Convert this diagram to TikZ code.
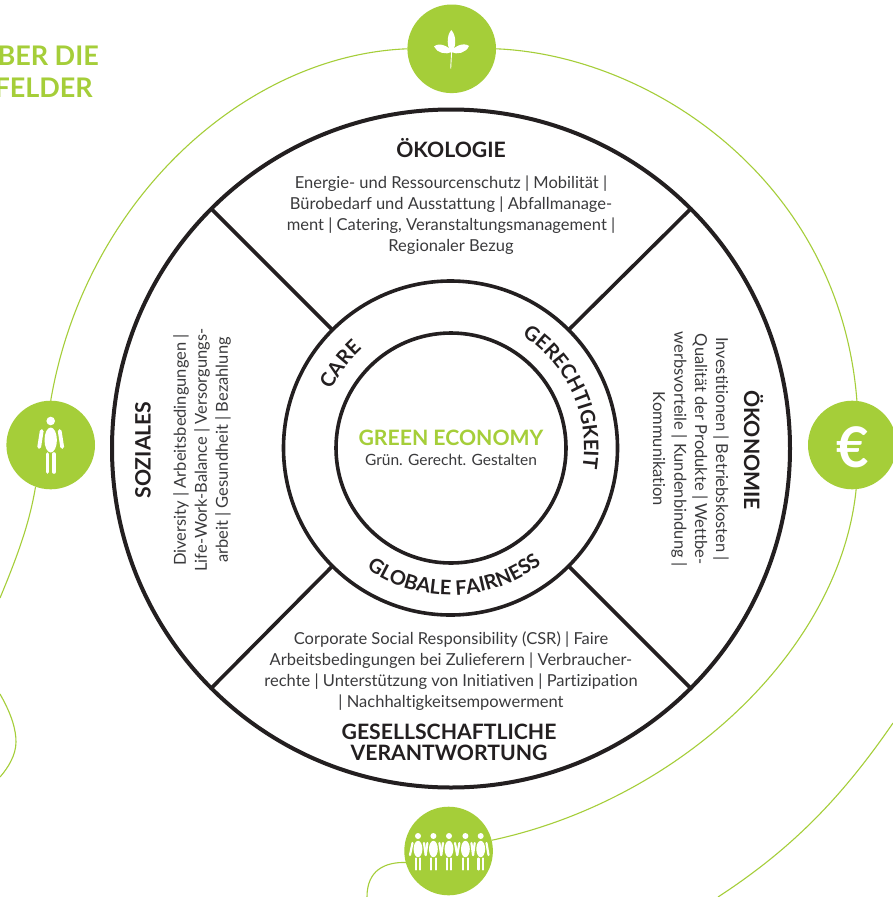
\documentclass[tikz,border=0pt]{standalone}
\usepackage{fontspec}
\setmainfont{Lato}[Ligatures=NoCommon]
\usetikzlibrary{decorations.text}
\definecolor{leaf}{HTML}{A5CE39}
\definecolor{ink}{HTML}{231F20}
\definecolor{body}{HTML}{3A3A3C}
\tikzset{
  ring/.style={circle,draw=ink,inner sep=0,outer sep=0},
  spoke/.style={draw=ink,line width=3.6pt},
  vine/.style={draw=leaf,line width=1.1pt},
  badge/.style={circle,fill=leaf,inner sep=0,outer sep=0,minimum size=88.6pt},
  head/.style={font=\fontsize{21.2}{21}\selectfont\bfseries,text=ink,align=center,inner sep=0},
  copytext/.style={font=\fontsize{16.5}{21}\selectfont,text=body,align=center,inner sep=0},
  arclabel/.style={decorate,decoration={text along path,text align={align=fit to path},raise=0pt,text={|\fontsize{20}{22}\selectfont\bfseries\color{ink}|#1}}},
  limb/.style={draw=white,line cap=round},
  person/.pic={
    \fill[white] (0,-24) circle (4.3);
    \fill[white] (0,-5) ellipse [x radius=6.2,y radius=12.5];
    \draw[limb,line width=3.8pt] (-9,-14) -- (-11.5,2);
    \draw[limb,line width=3.8pt] (9,-14) -- (11.5,2);
    \draw[limb,line width=3.6pt] (-3.3,9) -- (-3.3,27);
    \draw[limb,line width=3.6pt] (3.3,9) -- (3.3,27);
  },
  miniperson/.pic={
    \fill[white] (0,-15) circle (3);
    \fill[white] (0,-2) ellipse [x radius=4.4,y radius=8.2];
    \draw[limb,line width=2.2pt] (-2.2,7.5) -- (-2.2,18.5);
    \draw[limb,line width=2.2pt] (2.2,7.5) -- (2.2,18.5);
  },
}
\begin{document}
\begin{tikzpicture}[x=1pt,y=-1pt]
\path[clip] (0,0) rectangle (893,897);
\fill[white] (0,0) rectangle (893,897);

% badges
\node[badge] (plant) at (451.7,48.8) {};
\node[badge] (human) at (50.7,445) {};
\node[badge] (euro) at (852.3,445) {};
\node[badge] (group) at (448.6,851) {};

% vines
\coordinate (redge1) at (893,723);
\coordinate (redge2) at (718,897);
\coordinate (ledge1) at (0,598);
\coordinate (ledge2) at (0,694);
\coordinate (ledge3) at (0,777);
\coordinate (bedge) at (367,897);
\draw[vine] (plant.west) .. controls (245,55) and (85,200) .. (human.90);
\draw[vine] (plant.east) .. controls (650,55) and (840,180) .. (euro.84);
\draw[vine] (euro.-85) .. controls (840,650) and (680,800) .. (group.14);
\draw[vine] (redge1) .. controls (840,800) and (790,850) .. (redge2);
\draw[vine] (human.-110) .. controls (30,520) and (20,550) .. (ledge1);
\draw[vine] (ledge2) .. controls (12,715) and (16,730) .. (16,742) .. controls (16,755) and (8,768) .. (ledge3);
\draw[vine] (group.195) .. controls (385,862) and (367,870) .. (bedge);

% rings
\node[ring,line width=4pt,minimum size=678pt] (outer) at (451,448.5) {};
\node[ring,line width=3.6pt,minimum size=334pt] (mid) at (450.5,448) {};
\node[ring,line width=3.6pt,minimum size=230pt] (inner) at (451,448) {};
\draw[spoke] (mid.135) -- (outer.135);
\draw[spoke] (mid.45) -- (outer.45);
\draw[spoke] (mid.-135) -- (outer.-135);
\draw[spoke] (mid.-45) -- (outer.-45);

% centre
\node[font=\fontsize{21.2}{22}\selectfont\bfseries,text=leaf,inner sep=0] (ge) at (451,438) {GREEN ECONOMY};
\node[font=\fontsize{15.5}{21}\selectfont,text=body,inner sep=0] (gg) at (451,460) {Grün. Gerecht. Gestalten};

% ring labels
\path[arclabel=CARE] (451,448) ++(-154:133) arc (-154:-132:133);
\path[arclabel=GERECHTIGKEIT] (451,448) ++(-59:133) arc (-59:10:133);
\path[arclabel=GLOBALE FAIRNESS] (451,448) ++(128:147) arc (128:49:147);

% sectors
\node[head] (oek) at (451,148) {ÖKOLOGIE};
\node[copytext] (oekt) at (451,215) {Energie- und Ressourcenschutz | Mobilität |\\Bürobedarf und Ausstattung | Abfallmanage-\\ment | Catering, Veranstaltungsmanagement |\\Regionaler Bezug};
\node[copytext] (gest) at (451,671) {Corporate Social Responsibility (CSR) | Faire\\Arbeitsbedingungen bei Zulieferern | Verbraucher-\\rechte | Unterstützung von Initiativen | Partizipation\\| Nachhaltigkeitsempowerment};
\node[head] (ges) at (449,742.5) {GESELLSCHAFTLICHE\\VERANTWORTUNG};
\node[head,rotate=90] (soz) at (143,450) {SOZIALES};
\node[copytext,rotate=90] (sozt) at (202,450) {Diversity | Arbeitsbedingungen |\\Life-Work-Balance | Versorgungs-\\arbeit | Gesundheit | Bezahlung};
\node[head,rotate=-90] (oko) at (753.5,450) {ÖKONOMIE};
\node[copytext,rotate=-90] (okot) at (691,449) {Investitionen | Betriebskosten |\\Qualität der Produkte | Wettbe-\\werbsvorteile | Kundenbindung |\\Kommunikation};

% title
\node[anchor=east,font=\fontsize{27}{30}\selectfont\bfseries,text=leaf,inner sep=0] (t1) at (99,56) {BER DIE};
\node[anchor=east,font=\fontsize{27}{30}\selectfont\bfseries,text=leaf,inner sep=0] (t2) at (93,88) {FELDER};

% plant icon
\fill[white] (451.3,30) .. controls (457,36) and (456,48) .. (451.5,53) .. controls (447,48) and (446,36) .. (451.3,30) -- cycle;
\fill[white] (434,46.5) .. controls (439,42) and (449,46) .. (452,52) .. controls (446,55) and (437,53) .. (434,46.5) -- cycle;
\fill[white] (469,46) .. controls (464,42) and (454,46) .. (451,52) .. controls (457,55) and (466,53) .. (469,46) -- cycle;
\draw[white,line width=.9pt] (451.7,50) -- (450.7,68.5);

% human icon
\pic at (50.7,445) {person};

% euro icon
\node[text=white,font=\fontsize{56}{56}\selectfont\bfseries,inner sep=0] (eurosign) at (852.5,447.5) {€};

% group icon
\foreach \x in {418,433.4,449,465.4,480.7}{\pic at (\x,851) {miniperson};}
\foreach \xa/\xb in {418/433.4,433.4/449,449/465.4,465.4/480.7}{
  \draw[limb,line width=2.2pt] (\xa+6,843) -- ({(\xa+\xb)/2},855);
  \draw[limb,line width=2.2pt] (\xb-6,843) -- ({(\xa+\xb)/2},855);
}
\draw[limb,line width=2.2pt] (412.5,843) -- (410,855);
\draw[limb,line width=2.2pt] (486.5,843) -- (488.5,855);
\end{tikzpicture}
\end{document}
